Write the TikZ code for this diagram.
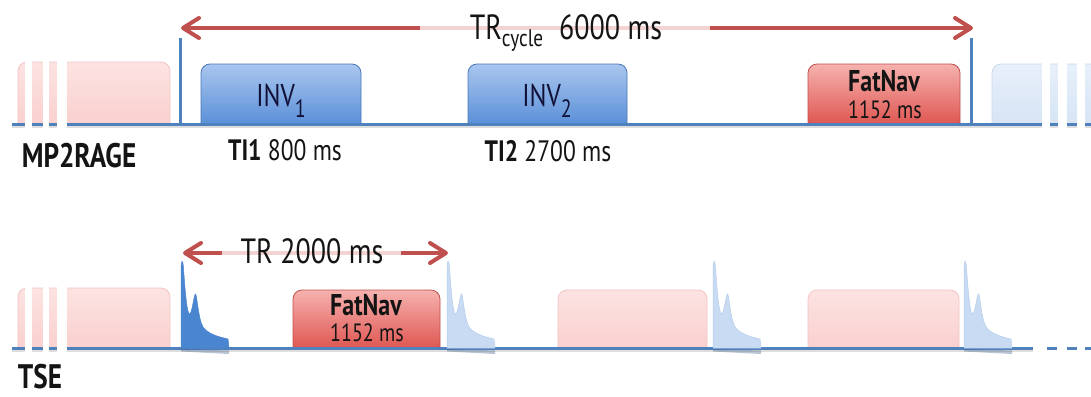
\documentclass[tikz,border=0pt]{standalone}
\usepackage{fontspec}
\setmainfont{PT Sans}[FakeStretch=0.80]
\usetikzlibrary{arrows.meta}

\definecolor{lineblue}{HTML}{4F81BD}
\definecolor{invtop}{HTML}{A9C6EE}
\definecolor{invbot}{HTML}{5B90D8}
\definecolor{invedge}{HTML}{4A78B8}
\definecolor{fntop}{HTML}{F6B2AF}
\definecolor{fnbot}{HTML}{DF5752}
\definecolor{fnedge}{HTML}{C0504D}
\definecolor{ghostredtop}{HTML}{FCE3E2}
\definecolor{ghostred}{HTML}{F9D0CF}
\definecolor{ghostrededge}{HTML}{F2C4C3}
\definecolor{ghostbluetop}{HTML}{E8F0FA}
\definecolor{ghostblue}{HTML}{D6E4F5}
\definecolor{ghostblueedge}{HTML}{C8D9EF}
\definecolor{echodark}{HTML}{4A86D0}
\definecolor{echolight}{HTML}{C8DBF2}
\definecolor{echolightedge}{HTML}{B4CCEB}
\definecolor{arrowred}{HTML}{C0504D}
\definecolor{arrowfade}{HTML}{F3D3D2}
\definecolor{ink}{HTML}{141414}

% block with rounded top corners, sitting on a time line (x1, ytop, x2, ybottom)
\newcommand\pulseblock[5]{\path[#1] (#2,#5) -- (#2,#3) -- (#4,#3) -- (#4,#5);}
% spin echo train drawn from its start x on the lower time line
\newcommand\echotrain[2]{%
  \begin{scope}[xshift=#1pt]
    \fill[lineblue!70!black, opacity=0.35] (0,349) -- (48,350.5) -- (48,354) -- (0,351.5) -- cycle;
    \path[#2] (0,348) -- (0,268) .. controls (0.5,259) and (1.8,259) .. (2.5,268)
      .. controls (4,290) and (6,314) .. (8.5,314)
      .. controls (11,314) and (13,294) .. (14.5,294)
      .. controls (16,294) and (17,318) .. (22,327)
      .. controls (27,334) and (38,337) .. (47,339) -- (48,348) -- cycle;
  \end{scope}}

\begin{document}
\begin{tikzpicture}[x=1pt, y=-1pt,
  every node/.style={inner sep=0pt, text=ink},
  timeline/.style={draw=lineblue, line width=3pt},
  tick/.style={draw=lineblue, line width=3pt},
  shadowline/.style={draw=black!25, line width=2.5pt, opacity=0.5},
  invblock/.style={top color=invtop, bottom color=invbot, draw=invedge, line width=0.8pt, rounded corners=9pt},
  fatblock/.style={top color=fntop, bottom color=fnbot, draw=fnedge, line width=0.8pt, rounded corners=9pt},
  ghostred/.style={top color=ghostredtop, bottom color=ghostred, draw=ghostrededge, line width=0.8pt, rounded corners=9pt},
  ghostblue/.style={top color=ghostbluetop, bottom color=ghostblue, draw=ghostblueedge, line width=0.8pt, rounded corners=9pt},
  echoA/.style={fill=echodark, draw=echodark, line width=0.5pt},
  echoB/.style={fill=echolight, draw=echolightedge, line width=0.5pt},
  span/.style={draw=arrowred, line width=4pt, {Straight Barb[length=16pt,width=20pt,round]}-{Straight Barb[length=16pt,width=20pt,round]}},
  fade/.style={draw=arrowfade, line width=4pt},
  gap/.style={fill=white},
  seqlabel/.style={font=\bfseries\fontsize{34}{34}\selectfont},
  timelabel/.style={font=\fontsize{29.5}{29.5}\selectfont},
  invlabel/.style={font=\fontsize{31.5}{31.5}\selectfont, text=ink!85!blue},
  spanlabel/.style={font=\fontsize{35}{35}\selectfont},
  fattitle/.style={font=\bfseries\fontsize{30}{30}\selectfont},
  fattime/.style={font=\fontsize{25}{25}\selectfont}
]
\useasboundingbox (0,0) rectangle (1091,396);
\fill[white] (0,0) rectangle (1091,396);

% ---------------- MP2RAGE ----------------
\coordinate (cycS) at (181,28);
\coordinate (cycE) at (973,28);
\coordinate (cycFadeL) at (420,28);
\coordinate (cycFadeR) at (710,28);
\draw[span] (cycS) -- (cycE);
\draw[fade] (cycFadeL) -- (cycFadeR);

\coordinate (tickAtop) at (180,38);
\coordinate (tickAbot) at (180,124);
\coordinate (tickBtop) at (971,38);
\coordinate (tickBbot) at (971,124);
\draw[tick] (tickAtop) -- (tickAbot);
\draw[tick] (tickBtop) -- (tickBbot);

\pulseblock{ghostred}{18}{62}{170}{124}
\pulseblock{invblock}{201}{64}{361}{124}
\pulseblock{invblock}{468}{64}{627}{124}
\pulseblock{fatblock}{808}{64}{960}{124}
\pulseblock{ghostblue}{992}{64}{1100}{124}

\draw[shadowline] (12,127) -- (1091,127);
\draw[timeline] (12,124) -- (1091,124);

% ---------------- TSE ----------------
\coordinate (trS) at (183,253);
\coordinate (trE) at (448,253);
\coordinate (trFadeL) at (222,253);
\coordinate (trFadeR) at (401,253);
\draw[span] (trS) -- (trE);
\draw[fade] (trFadeL) -- (trFadeR);

\pulseblock{ghostred}{18}{288}{170}{348}
\pulseblock{fatblock}{293}{290}{440}{348}
\pulseblock{ghostred}{558}{290}{707}{348}
\pulseblock{ghostred}{808}{290}{959}{348}

\draw[shadowline] (12,351) -- (1033,351);
\draw[timeline] (12,348) -- (1033,348);
\foreach \a/\b in {1047/1057, 1067/1077, 1085/1091}
  \draw[timeline] (\a,348) -- (\b,348);

\echotrain{181}{echoA}
\echotrain{447}{echoB}
\echotrain{713}{echoB}
\echotrain{964}{echoB}

% cut marks on the repeated blocks
\foreach \a/\b in {25/32, 43/49, 57/67} {
  \fill[gap] (\a,55) rectangle (\b,132);
  \fill[gap] (\a,281) rectangle (\b,356);
}
\foreach \a/\b in {1042/1050, 1058/1067, 1077/1085}
  \fill[gap] (\a,55) rectangle (\b,132);

% ---------------- labels ----------------
\node[seqlabel, anchor=base] (mp2rage) at (79,167) {MP2RAGE};
\node[seqlabel, anchor=base] (tse) at (40,388) {TSE};

\node[invlabel, anchor=base] (inv1) at (281,106) {INV\raisebox{-11pt}{\fontsize{25}{25}\selectfont 1}};
\node[invlabel, anchor=base] (inv2) at (547,106) {INV\raisebox{-11pt}{\fontsize{25}{25}\selectfont 2}};
\node[timelabel, anchor=base] (ti1) at (285,160) {\textbf{TI1} 800 ms};
\node[timelabel, anchor=base] (ti2) at (548,161) {\textbf{TI2} 2700 ms};

\node[fattitle, anchor=base] (fatA) at (884,91) {FatNav};
\node[fattime, anchor=base] (fatAt) at (885,118) {1152 ms};
\node[fattitle, anchor=base] (fatB) at (366,315) {FatNav};
\node[fattime, anchor=base] (fatBt) at (367,341) {1152 ms};

\node[spanlabel, anchor=base] (trcycle) at (566,40) {TR\raisebox{-6pt}{\fontsize{24}{24}\selectfont cycle}\hspace{16pt}6000 ms};
\node[spanlabel, anchor=base] (tr) at (312,263) {TR 2000 ms};
\end{tikzpicture}
\end{document}
